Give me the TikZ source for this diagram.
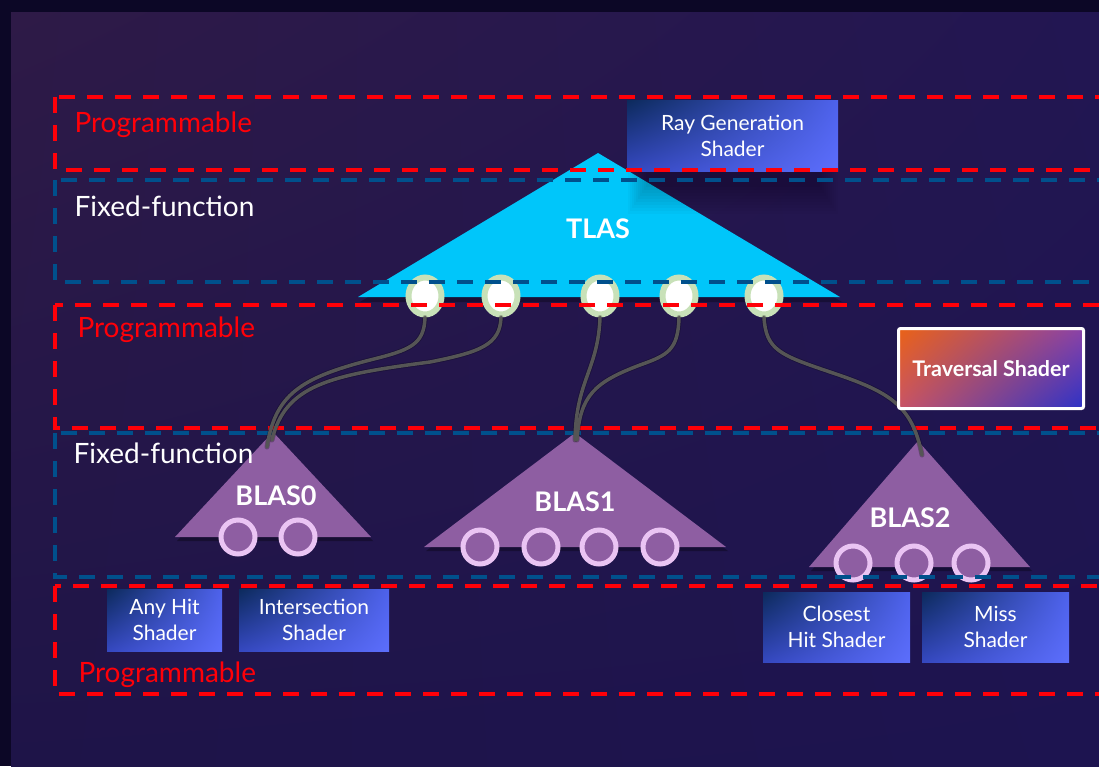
\documentclass[tikz,border=0pt]{standalone}
\usepackage{fontspec}
\setmainfont{Lato}
\usetikzlibrary{shapes.geometric,shadings}

\definecolor{outerbg}{HTML}{0C0726}
\definecolor{panelUL}{HTML}{2E1A47}
\definecolor{panelUR}{HTML}{221652}
\definecolor{panelLL}{HTML}{1E1448}
\definecolor{panelLR}{HTML}{1D1450}
\definecolor{dashred}{HTML}{FF0008}
\definecolor{dashblue}{HTML}{00508C}
\definecolor{tlascyan}{HTML}{00C6FA}
\definecolor{blasfill}{HTML}{8E5EA2}
\definecolor{blasring}{HTML}{EAC4F3}
\definecolor{leafring}{HTML}{C8E1B8}
\definecolor{connc}{HTML}{555555}
\definecolor{shUL}{HTML}{0C2A5C}
\definecolor{shUR}{HTML}{4E62EC}
\definecolor{shLL}{HTML}{3548C0}
\definecolor{shLR}{HTML}{5C6EFC}
\definecolor{trUL}{HTML}{EA6216}
\definecolor{trUR}{HTML}{8A42A8}
\definecolor{trLL}{HTML}{C85468}
\definecolor{trLR}{HTML}{2C32C6}

\tikzset{
  redbox/.style={draw=dashred, line width=4pt, dash pattern=on 16pt off 12pt},
  bluebox/.style={draw=dashblue, line width=3.5pt, dash pattern=on 16pt off 12pt},
  tlasleaf/.style={ellipse, minimum width=33pt, minimum height=37pt, inner sep=0pt,
    fill=white, draw=leafring, line width=6pt},
  blasleaf/.style={circle, minimum size=34pt, inner sep=0pt,
    fill=blasfill, draw=blasring, line width=5pt},
  conn/.style={draw=connc, line width=3.5pt, line cap=round},
  connshadow/.style={draw=black, opacity=0.25, line width=5pt, line cap=round},
  shaderbox/.style={inner sep=0pt, text=white, align=center,
    font=\fontsize{21}{26}\selectfont,
    upper left=shUL, upper right=shUR, lower left=shLL, lower right=shLR},
  layertext/.style={anchor=base west, font=\fontsize{28}{32}\selectfont},
  treelabel/.style={text=white, font=\bfseries\fontsize{27}{32}\selectfont, inner sep=0pt},
  triangleshadow/.style={fill=black, opacity=0.3}
}

\begin{document}
\begin{tikzpicture}[x=1pt, y=-1pt]
\useasboundingbox (0,0) rectangle (1099,766);

% backdrop
\fill[outerbg] (0,0) rectangle (1099,766);
\shade[upper left=panelUL, upper right=panelUR, lower left=panelLL, lower right=panelLR]
  (11,12) rectangle (1099,766);

% drop shadows under the trees
\fill[triangleshadow] (598,157) -- (360,302) -- (842,302) -- cycle;
\fill[triangleshadow] (273,436) -- (177,541) -- (373,541) -- cycle;
\fill[triangleshadow] (575,437) -- (426,551) -- (728,551) -- cycle;
\fill[triangleshadow] (918,446) -- (811,571) -- (1032,571) -- cycle;

% top-level acceleration structure
\fill[tlascyan] (598,153) -- (358,297) -- (840,297) -- cycle;
\coordinate (tlasapex) at (598,153);

% soft shadow cast by the ray generation box
\foreach \k in {0,...,9}
  \fill[black, opacity=0.022] (628+2*\k,110+2*\k) rectangle (838-2*\k,214-3*\k);

% bottom-level acceleration structures
\fill[blasfill] (273,432) -- (175,537) -- (371,537) -- cycle;
\fill[blasfill] (575,433) -- (424,547) -- (726,547) -- cycle;
\fill[blasfill] (918,441) -- (809,567) -- (1030,567) -- cycle;
\coordinate (blas0apex) at (273,432);
\coordinate (blas1apex) at (575,433);
\coordinate (blas2apex) at (918,441);

\node[treelabel] (tlaslabel) at (598,229) {TLAS};
\node[treelabel] (blas0label) at (276,496) {BLAS0};
\node[treelabel] (blas1label) at (575,502) {BLAS1};
\node[treelabel] (blas2label) at (910,518) {BLAS2};

% instance leaves of the TLAS
\node[tlasleaf] (t1) at (425,296) {};
\node[tlasleaf] (t2) at (501,296) {};
\node[tlasleaf] (t3) at (600,296) {};
\node[tlasleaf] (t4) at (679,296) {};
\node[tlasleaf] (t5) at (764,296) {};

% primitive leaves of the BLASes
\node[blasleaf] (b0a) at (238,537) {};
\node[blasleaf] (b0b) at (298,537) {};
\node[blasleaf] (b1a) at (480,547) {};
\node[blasleaf] (b1b) at (541,547) {};
\node[blasleaf] (b1c) at (599,547) {};
\node[blasleaf] (b1d) at (660,547) {};
\node[blasleaf] (b2a) at (853,563) {};
\node[blasleaf] (b2b) at (914,563) {};
\node[blasleaf] (b2c) at (971,563) {};

% shader stages
\node[shaderbox, minimum width=211pt, minimum height=71pt] (raygen) at (732.5,135.5)
  {Ray Generation\\Shader};
\node[shaderbox, minimum width=115pt, minimum height=62pt] (anyhit) at (164.5,620)
  {Any Hit\\Shader};
\node[shaderbox, minimum width=150pt, minimum height=62pt] (isect) at (314,620)
  {Intersection\\Shader};
\node[shaderbox, minimum width=147pt, minimum height=70pt] (closest) at (836.5,627)
  {Closest\\Hit Shader};
\node[shaderbox, minimum width=147pt, minimum height=70pt] (miss) at (995.5,627)
  {Miss\\Shader};

% programmable / fixed-function bands
\draw[redbox] (55,97) rectangle (1112,170);
\draw[bluebox] (55,180) rectangle (1112,282);
\draw[redbox] (55,305) rectangle (1112,428);
\draw[bluebox] (55,433) rectangle (1112,577);
\draw[redbox] (55,586) rectangle (1112,694);

\node[layertext, text=dashred] (prog1) at (71,132) {Programmable};
\node[layertext, text=white] (fixed1) at (71,216) {Fixed-function};
\node[layertext, text=dashred] (prog2) at (74,337) {Programmable};
\node[layertext, text=white] (fixed2) at (70,463) {Fixed-function};
\node[layertext, text=dashred] (prog3) at (75,682) {Programmable};

% instance links from TLAS leaves to BLAS roots
\foreach \s in {connshadow, conn} {
  \draw[\s] (t1.south) .. controls (424,345) and (410,350) .. (370,360)
    .. controls (300,378) and (275,395) .. ([shift={(-6,15)}]blas0apex);
  \draw[\s] (t2.south) .. controls (500,345) and (480,352) .. (430,362)
    .. controls (330,375) and (285,385) .. ([shift={(-1,8)}]blas0apex);
  \draw[\s] (t3.south) .. controls (598,370) and (576,380) .. ([shift={(0,7)}]blas1apex);
  \draw[\s] (t4.south) .. controls (678,350) and (668,355) .. (640,365)
    .. controls (595,382) and (580,395) .. ([shift={(2,7)}]blas1apex);
  \draw[\s] (t5.south) .. controls (766,350) and (780,355) .. (830,372)
    .. controls (890,392) and (912,405) .. ([shift={(4,14)}]blas2apex);
}

% traversal shader
\node[draw=white, line width=3pt, rounded corners=2pt, minimum width=185pt, minimum height=80pt,
  upper left=trUL, upper right=trUR, lower left=trLL, lower right=trLR,
  text=white, font=\bfseries\fontsize{21.5}{24}\selectfont, inner sep=0pt] (trav) at (991,368.5)
  {Traversal Shader};
\end{tikzpicture}
\end{document}
